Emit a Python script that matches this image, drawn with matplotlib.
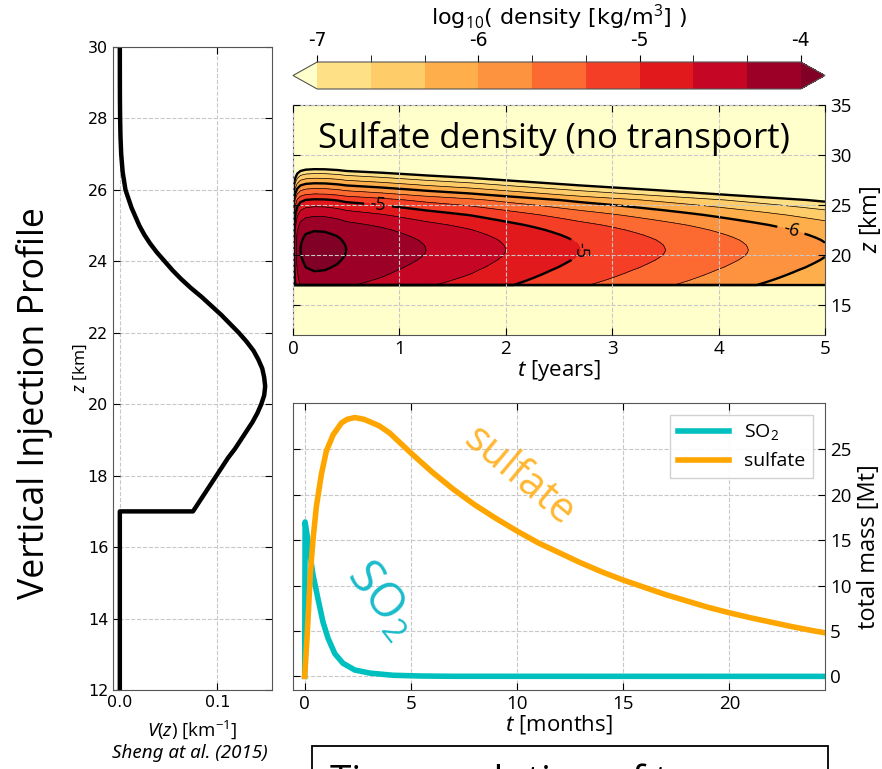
import numpy as np
import matplotlib
matplotlib.use("Agg")
import matplotlib.pyplot as plt
import matplotlib.ticker as mticker
from matplotlib.colors import ListedColormap
from matplotlib.patches import Rectangle

plt.rcParams['font.family'] = ['Open Sans', 'DejaVu Sans']
plt.rcParams['mathtext.fontset'] = 'custom'
plt.rcParams['mathtext.rm'] = 'Open Sans'
plt.rcParams['mathtext.it'] = 'Noto Sans:italic'
plt.rcParams['axes.edgecolor'] = '#555555'
plt.rcParams['contour.negative_linestyle'] = 'solid'

# ---- vertical injection profile V(z) (Sheng et al. 2015), km^-1 ----
z_nodes = [17.0, 17.25, 17.5, 17.75, 18.0, 18.25, 18.5, 18.75, 19.0, 19.25,
           19.5, 19.75, 20.0, 20.25, 20.5, 20.75, 21.0, 21.25, 21.5, 21.75,
           22.0, 22.25, 22.5, 22.75, 23.0, 23.25, 23.5, 23.75, 24.0, 24.25,
           24.5, 24.75, 25.0, 25.5, 26.0, 26.5, 27.0, 27.5, 28.0, 28.5, 29.0,
           29.5, 30.0]
v_nodes = [0.075, 0.081, 0.087, 0.093, 0.099, 0.105, 0.111, 0.118, 0.124,
           0.130, 0.136, 0.141, 0.145, 0.148, 0.149, 0.148, 0.146, 0.142,
           0.137, 0.130, 0.122, 0.113, 0.104, 0.094, 0.084, 0.073, 0.063,
           0.054, 0.046, 0.038, 0.031, 0.025, 0.020, 0.012, 0.0058, 0.0029,
           0.0014, 0.00066, 0.00030, 0.000126, 0.000050, 0.000019, 0.0000069]
z_floor = [12.0, 17.0]          # no injection below the tropopause
v_floor = [0.0, 0.0]

# ---- peak sulfate density (log10 kg/m^3) vs time in years ----
peak_years = [0.0, 0.01, 0.02, 0.04, 0.07, 0.12, 0.2, 0.3, 0.42, 0.5, 0.83,
              1.25, 1.67, 2.0, 2.7, 3.5, 4.28, 5.0]
peak_log10 = [-9.0, -4.85, -4.53, -4.2, -4.0, -3.9, -3.86, -3.87, -3.93,
              -4.0, -4.13, -4.333, -4.50, -4.667, -5.0, -5.333, -5.667, -5.98]

# ---- total mass time series (Mt) ----
so2_month = [0.0, 0.02, 0.24, 0.39, 0.63, 0.86, 1.1, 1.42, 1.8, 2.36, 3.07,
             4.17, 5.5, 7.0, 24.5]
so2_mass = [0.0, 17.0, 13.6, 11.2, 8.5, 6.0, 4.2, 2.5, 1.45, 0.7, 0.36,
            0.12, 0.04, 0.01, 0.0]
sulf_month = [0.0, 0.11, 0.27, 0.39, 0.55, 0.79, 1.02, 1.34, 1.73, 2.0, 2.36,
              2.8, 3.5, 4.0, 5.0, 6.0, 7.0, 8.0, 9.0, 10.0, 11.0, 12.0, 13.0,
              14.0, 15.0, 16.0, 17.0, 18.0, 19.0, 20.0, 21.0, 22.0, 23.0,
              24.0, 24.5]
sulf_mass = [0.0, 4.2, 11.4, 15.0, 18.7, 22.3, 24.8, 26.6, 27.9, 28.3, 28.5,
             28.3, 27.6, 26.8, 24.6, 22.5, 20.6, 18.9, 17.4, 16.0, 14.7, 13.6,
             12.5, 11.5, 10.6, 9.8, 9.0, 8.3, 7.6, 7.0, 6.45, 5.95, 5.45,
             5.0, 4.8]

levels = np.linspace(-7, -4, 10)
major_levels = [-7, -6, -5, -4]
labelled_levels = [-6, -5]
minor_levels = [lv for lv in levels if not np.isclose(lv, np.round(lv))]

# filled-band colours taken along YlOrRd, with pale/dark ends for the extensions
ylorrd = plt.get_cmap('YlOrRd')
band_cmap = ListedColormap(ylorrd(np.linspace(0.2, 0.94, len(levels) - 1)))
band_cmap.set_under(ylorrd(0.0))
band_cmap.set_over(ylorrd(1.0))

W, H = 882, 769
fig = plt.figure(figsize=(W / 100, H / 100), dpi=100)


def box(x0, y0, x1, y1):
    return [x0 / W, 1 - y1 / H, (x1 - x0) / W, (y1 - y0) / H]


grid_kw = dict(color='#c8c8c8', linestyle='--', linewidth=0.8)

# ---------------- left: injection profile ----------------
axv = fig.add_axes(box(113, 47, 272, 690))
axv.plot(v_floor + v_nodes, z_floor + z_nodes, color='black', lw=3.2)
axv.set_xlim(-0.007, 0.156)
axv.set_ylim(12, 30)
axv.set_xticks([0.0, 0.1])
axv.set_yticks(np.arange(12, 31, 2))
axv.xaxis.set_major_formatter(mticker.FormatStrFormatter('%.1f'))
axv.tick_params(direction='in', length=5, right=True, top=True,
                labelsize=11.5, labelfontfamily='DejaVu Sans')
axv.grid(True, **grid_kw)
axv.set_ylabel('$z$ [km]', fontsize=12.5, labelpad=-1)
axv.set_xlabel('$V(z)$ [km$^{-1}$]', fontsize=13.5, labelpad=6)
fig.text(35 / W, 1 - 403 / H, 'Vertical Injection Profile', rotation=90,
         fontsize=25.7, ha='center', va='center')
fig.text(190 / W, 1 - 753 / H, 'Sheng at al. (2015)', family='Noto Sans',
         style='italic', fontsize=13.5, ha='center', va='center')

# ---------------- top right: sulfate density ----------------
axc = fig.add_axes(box(293, 105, 825, 335))
t_grid = np.linspace(0, 5, 1001)
z_grid = np.linspace(12, 35, 1151)
peak_t = np.interp(t_grid, peak_years, peak_log10)
shape_z = np.full_like(z_grid, -12.0)
inside = (z_grid >= z_nodes[0]) & (z_grid <= z_nodes[-1])
shape_z[inside] = np.interp(z_grid[inside], z_nodes,
                            np.log10(np.array(v_nodes) / max(v_nodes)))
density = np.maximum(peak_t[None, :] + shape_z[:, None], -12.0)

cf = axc.contourf(t_grid, z_grid, density, levels=levels, cmap=band_cmap,
                  extend='both')
axc.contour(t_grid, z_grid, density, levels=minor_levels, colors='black',
            linewidths=0.5, linestyles='solid')
axc.contour(t_grid, z_grid, density, levels=[-7, -4], colors='black',
            linewidths=1.7, linestyles='solid')
cs = axc.contour(t_grid, z_grid, density, levels=labelled_levels,
                 colors='black', linewidths=1.7, linestyles='solid')
axc.clabel(cs, fmt=lambda v: f'{v:.0f}', fontsize=13, inline=True,
           inline_spacing=6, manual=[(0.8, 25.0), (2.72, 20.6), (4.68, 22.5)])
axc.set_xlim(0, 5)
axc.set_ylim(12, 35)
axc.set_yticks([15, 20, 25, 30, 35])
axc.yaxis.tick_right()
axc.yaxis.set_label_position('right')
axc.tick_params(direction='in', length=5, left=True, right=True,
                top=True, labelsize=13.5)
axc.grid(True, **grid_kw)
axc.set_axisbelow(False)
axc.set_xlabel('$t$ [years]', fontsize=16, labelpad=0)
axc.set_ylabel('$z$ [km]', fontsize=17, labelpad=4)
axc.text(0.235, 31.7, 'Sulfate density (no transport)', fontsize=25,
         ha='left', va='center')

# colorbar above (extension triangles sit inside the axes box)
cax = fig.add_axes(box(293, 62, 825, 89))
cbar = fig.colorbar(cf, cax=cax, orientation='horizontal', extend='both')
cbar.set_ticks(major_levels)
cbar.minorlocator = mticker.FixedLocator(levels)
cbar.ax.xaxis.set_ticks_position('top')
cbar.ax.xaxis.set_label_position('top')
cbar.ax.xaxis.set_major_formatter(mticker.FuncFormatter(lambda v, p: f'{v:.0f}'))
cbar.ax.tick_params(which='both', direction='out', length=5, labelsize=13.5,
                    labelfontfamily='DejaVu Sans')
cbar.outline.set_linewidth(0.8)
cbar.set_label(r'log$_{10}$( density [kg/m$^3$] )', fontsize=16,
               family='DejaVu Sans', labelpad=4)

# ---------------- bottom right: total mass ----------------
axm = fig.add_axes(box(293, 403, 825, 690))
axm.plot(so2_month, so2_mass, color='#00bfbf', lw=4, label='SO$_2$')
axm.plot(sulf_month, sulf_mass, color='orange', lw=4, label='sulfate')
axm.set_xlim(-0.55, 24.5)
axm.set_ylim(-1.5, 30.1)
axm.set_xticks([0, 5, 10, 15, 20])
axm.set_yticks([0, 5, 10, 15, 20, 25])
axm.yaxis.tick_right()
axm.yaxis.set_label_position('right')
axm.tick_params(direction='in', length=5, left=True, right=True,
                top=True, labelsize=13.5)
axm.grid(True, **grid_kw)
axm.set_xlabel('$t$ [months]', fontsize=16, labelpad=0)
axm.set_ylabel('total mass [Mt]', fontsize=17, labelpad=4)
axm.legend(loc='upper right', fontsize=14, handlelength=2.6,
           framealpha=0.9, edgecolor='#cccccc', fancybox=False,
           borderaxespad=0.6)
axm.text(10.1, 22.0, 'sulfate', color='orange', alpha=0.8, fontsize=30,
         rotation=-40, ha='center', va='center', rotation_mode='anchor')
axm.text(3.6, 8.5, 'SO$_2$', color='#00b5c5', alpha=0.9, fontsize=34,
         rotation=-52, ha='center', va='center', rotation_mode='anchor')

# caption box running off the bottom edge
fig.patches.append(Rectangle((312 / W, -0.06), 516 / W, 0.06 + (H - 746) / H,
                             transform=fig.transFigure, fill=False,
                             lw=1.3, edgecolor='black'))
fig.text(330 / W, -24 / H, 'Time evolution of tracers', fontsize=28,
         ha='left', va='baseline')

fig.savefig('out.png', dpi=100)
